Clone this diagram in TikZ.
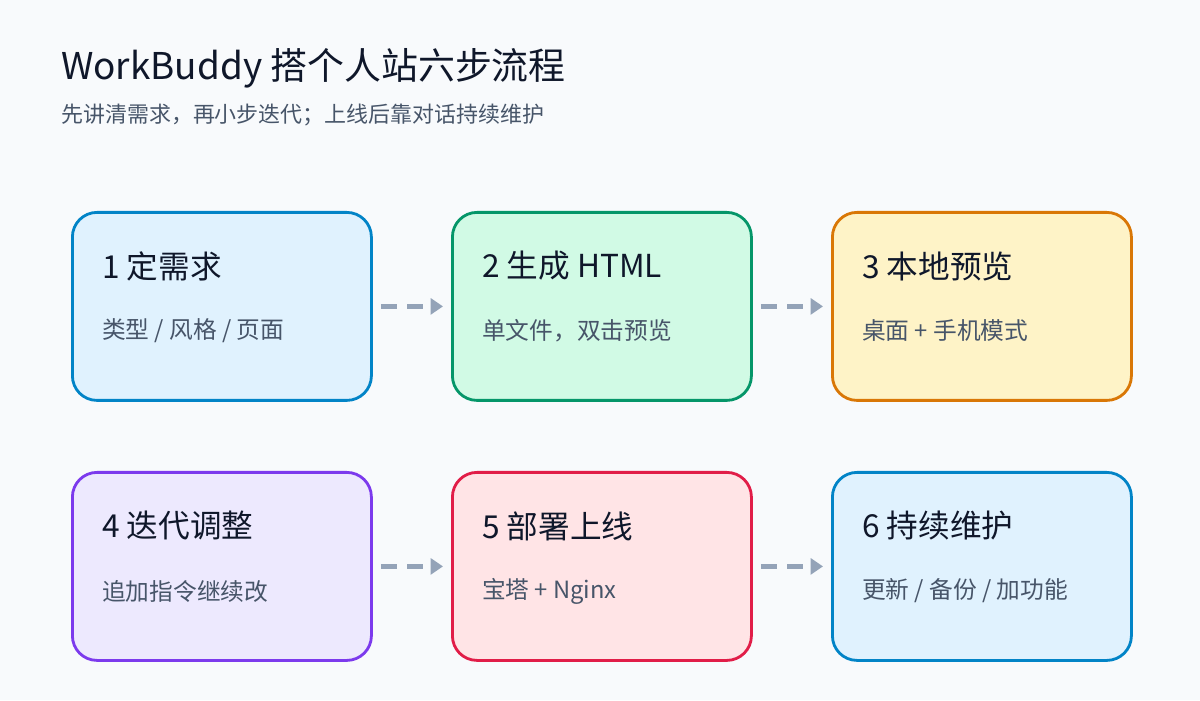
\documentclass[tikz,border=0pt]{standalone}
\usepackage{fontspec}
\setmainfont{Noto Sans CJK SC}
\usetikzlibrary{positioning,arrows.meta}
\definecolor{bgc}{HTML}{F8FAFC}
\definecolor{ink}{HTML}{0F172A}
\definecolor{sub}{HTML}{475569}
\definecolor{arr}{HTML}{94A3B8}
\definecolor{bluef}{HTML}{E0F2FE}\definecolor{blued}{HTML}{0284C7}
\definecolor{greenf}{HTML}{D1FAE5}\definecolor{greend}{HTML}{059669}
\definecolor{amberf}{HTML}{FEF3C7}\definecolor{amberd}{HTML}{D97706}
\definecolor{violf}{HTML}{EDE9FE}\definecolor{viold}{HTML}{7C3AED}
\definecolor{rosef}{HTML}{FFE4E6}\definecolor{rosed}{HTML}{E11D48}
\begin{document}
\begin{tikzpicture}
[stage/.style={shape=rectangle,rounded corners=14pt,line width=1.6pt,minimum width=5.98cm,minimum height=3.76cm,anchor=north west},
head/.style={anchor=west,font=\fontsize{18}{21}\selectfont,text=ink},
desc/.style={anchor=west,font=\fontsize{13.5}{16}\selectfont,text=sub},
flow/.style={-{Triangle[length=7pt,width=9pt]},line width=2.4pt,color=arr,dash pattern=on 9pt off 6pt}]

\fill[bgc] (0,0) rectangle (24,14);
\node (title) [anchor=west,font=\fontsize{21}{25}\selectfont,text=ink] at (1.1,12.64) {WorkBuddy 搭个人站六步流程};
\node (subtitle) [anchor=west,font=\fontsize{12.5}{15}\selectfont,text=sub] at (1.1,11.7) {先讲清需求，再小步迭代；上线后靠对话持续维护};

% first row
\node (s1) [stage,draw=blued,fill=bluef] at (1.42,9.78) {};
\node (s2) [stage,draw=greend,fill=greenf] at (9.02,9.78) {};
\node (s3) [stage,draw=amberd,fill=amberf] at (16.62,9.78) {};
% second row
\node (s4) [stage,draw=viold,fill=violf] at (1.42,4.58) {};
\node (s5) [stage,draw=rosed,fill=rosef] at (9.02,4.58) {};
\node (s6) [stage,draw=blued,fill=bluef] at (16.62,4.58) {};

\foreach \n/\h/\d in {s1/{1 定需求}/{类型 / 风格 / 页面}, s2/{2 生成 HTML}/{单文件，双击预览}, s3/{3 本地预览}/{桌面 + 手机模式},
  s4/{4 迭代调整}/{追加指令继续改}, s5/{5 部署上线}/{宝塔 + Nginx}, s6/{6 持续维护}/{更新 / 备份 / 加功能}}{
  \node [head] at ([xshift=0.5cm,yshift=-1.1cm]\n.north west) {\h};
  \node [desc] at ([xshift=0.5cm,yshift=-2.4cm]\n.north west) {\d};
}

\draw[flow] ([xshift=0.16cm]s1.east) -- ([xshift=-0.16cm]s2.west);
\draw[flow] ([xshift=0.16cm]s2.east) -- ([xshift=-0.16cm]s3.west);
\draw[flow] ([xshift=0.16cm]s4.east) -- ([xshift=-0.16cm]s5.west);
\draw[flow] ([xshift=0.16cm]s5.east) -- ([xshift=-0.16cm]s6.west);
\end{tikzpicture}
\end{document}
